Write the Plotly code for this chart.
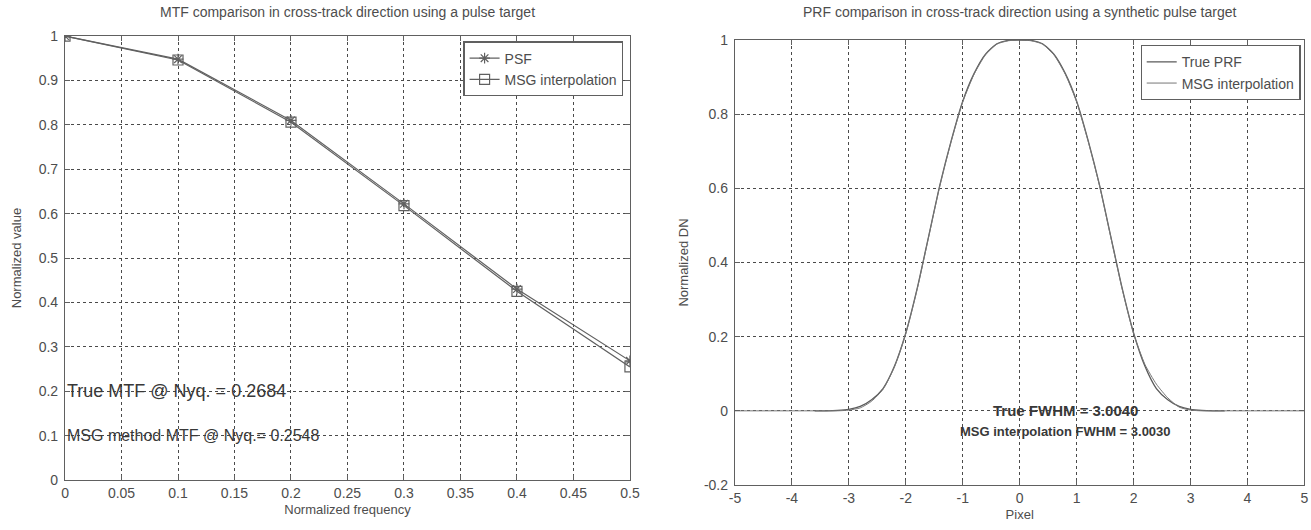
import plotly.graph_objects as go

# ---------------- data ----------------
mtf_freq = [0.0, 0.1, 0.2, 0.3, 0.4, 0.5]
mtf_psf = [1.0, 0.948, 0.810, 0.622, 0.430, 0.2684]
mtf_msg = [1.0, 0.946, 0.806, 0.618, 0.425, 0.2548]

prf_true_x = [-3.6, -3.4, -3.2, -3.0, -2.8, -2.6, -2.4, -2.2, -2.0, -1.8, -1.6, -1.4, -1.2, -1.0,
              -0.8, -0.6, -0.4, -0.2, 0.0, 0.2, 0.4, 0.6, 0.8, 1.0, 1.2, 1.4, 1.6, 1.8, 2.0,
              2.2, 2.4, 2.6, 2.8, 3.0, 3.2, 3.4, 3.6]
prf_true_y = [0.0, 0.0, 0.001, 0.004, 0.012, 0.030, 0.060, 0.120, 0.210, 0.330, 0.470, 0.610, 0.730, 0.835,
              0.910, 0.962, 0.990, 0.999, 1.000, 0.999, 0.990, 0.962, 0.910, 0.835, 0.730, 0.610, 0.470, 0.330, 0.210,
              0.120, 0.060, 0.030, 0.012, 0.004, 0.001, 0.0, 0.0]

prf_msg_x = [-5.0, -4.0, -3.4, -3.2, -3.0, -2.8, -2.6, -2.4, -2.2, -2.0, -1.8, -1.6, -1.4, -1.2, -1.0,
             -0.8, -0.6, -0.4, -0.2, 0.0, 0.2, 0.4, 0.6, 0.8, 1.0, 1.2, 1.4, 1.6, 1.8, 2.0,
             2.2, 2.4, 2.6, 2.8, 3.0, 3.2, 3.4, 4.0, 5.0]
prf_msg_y = [0.0, 0.0, 0.0, 0.0, 0.002, 0.008, 0.026, 0.058, 0.118, 0.208, 0.328, 0.468, 0.608, 0.728, 0.833,
             0.908, 0.960, 0.989, 0.998, 1.000, 0.998, 0.989, 0.960, 0.908, 0.833, 0.728, 0.608, 0.468, 0.328, 0.208,
             0.125, 0.072, 0.035, 0.010, 0.002, 0.0, 0.0, 0.0, 0.0]

mtf_xticks = [0, 0.05, 0.1, 0.15, 0.2, 0.25, 0.3, 0.35, 0.4, 0.45, 0.5]
mtf_xticklabels = ["0", "0.05", "0.1", "0.15", "0.2", "0.25", "0.3", "0.35", "0.4", "0.45", "0.5"]
mtf_yticks = [0, 0.1, 0.2, 0.3, 0.4, 0.5, 0.6, 0.7, 0.8, 0.9, 1]
mtf_yticklabels = ["0", "0.1", "0.2", "0.3", "0.4", "0.5", "0.6", "0.7", "0.8", "0.9", "1"]
prf_xticks = [-5, -4, -3, -2, -1, 0, 1, 2, 3, 4, 5]
prf_xticklabels = ["-5", "-4", "-3", "-2", "-1", "0", "1", "2", "3", "4", "5"]
prf_yticks = [-0.2, 0, 0.2, 0.4, 0.6, 0.8, 1]
prf_yticklabels = ["-0.2", "0", "0.2", "0.4", "0.6", "0.8", "1"]

# ---------------- style ----------------
NARROW = "Liberation Sans Narrow, Arial Narrow, Liberation Sans, Arial, sans-serif"
ARIAL = "Liberation Sans, Arial, sans-serif"
INK = "#4d4d4d"
LINE = "#606060"
GRID = "#4a4a4a"

L_DOM = [0.0496, 0.4805]
R_DOM = [0.5606, 0.9950]

fig = go.Figure()

fig.add_trace(go.Scatter(x=mtf_freq, y=mtf_psf, name="PSF", mode="lines+markers",
                         line=dict(color=LINE, width=1.2),
                         marker=dict(symbol="asterisk-open", size=9, color=LINE, line=dict(color=LINE, width=1.2)),
                         xaxis="x", yaxis="y", legend="legend"))
fig.add_trace(go.Scatter(x=mtf_freq, y=mtf_msg, name="MSG interpolation", mode="lines+markers",
                         line=dict(color=LINE, width=1.2),
                         marker=dict(symbol="square-open", size=10, color=LINE, line=dict(color=LINE, width=1.2)),
                         xaxis="x", yaxis="y", legend="legend"))

fig.add_trace(go.Scatter(x=prf_true_x, y=prf_true_y, name="True PRF", mode="lines",
                         line=dict(color="#5a5a5a", width=1.3, shape="spline", smoothing=0.6),
                         xaxis="x2", yaxis="y2", legend="legend2"))
fig.add_trace(go.Scatter(x=prf_msg_x, y=prf_msg_y, name="MSG interpolation", mode="lines",
                         line=dict(color="#777777", width=1.0, shape="spline", smoothing=0.6),
                         xaxis="x2", yaxis="y2", legend="legend2"))

axis_common = dict(
    automargin=False,
    showline=True, linecolor=LINE, linewidth=1.2, mirror="allticks",
    ticks="inside", ticklen=5, tickcolor=LINE,
    showgrid=True, gridcolor=GRID, gridwidth=1, griddash="3px,3px",
    zeroline=False, tickfont=dict(family=NARROW, size=14, color=INK),
    title_font=dict(family=NARROW, size=13, color=INK),
)

fig.update_layout(
    width=1311, height=530,
    margin=dict(l=0, r=0, t=0, b=0),
    paper_bgcolor="white", plot_bgcolor="white",
    xaxis=dict(domain=L_DOM, range=[0, 0.5], tickvals=mtf_xticks, ticktext=mtf_xticklabels,
               title=dict(text="Normalized frequency", standoff=4), anchor="y", **axis_common),
    yaxis=dict(domain=[0.0943, 0.932], range=[0, 1], tickvals=mtf_yticks, ticktext=mtf_yticklabels,
               title=dict(text="Normalized value", standoff=14), anchor="x", ticklabelstandoff=3, **axis_common),
    xaxis2=dict(domain=R_DOM, range=[-5, 5], tickvals=prf_xticks, ticktext=prf_xticklabels,
                title=dict(text="Pixel", standoff=4), anchor="y2", **axis_common),
    yaxis2=dict(domain=[0.0849, 0.9245], range=[-0.2, 1], tickvals=prf_yticks, ticktext=prf_yticklabels,
                title=dict(text="Normalized DN", standoff=12), anchor="x2", ticklabelstandoff=3, **axis_common),
    legend=dict(x=L_DOM[1] - 0.005, y=0.922, xanchor="right", yanchor="top", bgcolor="white",
                bordercolor=LINE, borderwidth=1.2, font=dict(family=NARROW, size=14, color=INK),
                tracegroupgap=0, itemwidth=30),
    legend2=dict(x=R_DOM[1] - 0.003, y=0.915, xanchor="right", yanchor="top", bgcolor="white",
                 bordercolor=LINE, borderwidth=1.2, font=dict(family=NARROW, size=14, color=INK),
                 tracegroupgap=0, itemwidth=30),
    annotations=[
        dict(text="MTF comparison in cross-track direction using a pulse target", xref="paper", yref="paper",
             x=(L_DOM[0] + L_DOM[1]) / 2, y=1 - 12 / 530, xanchor="center", yanchor="middle", showarrow=False,
             font=dict(family=NARROW, size=14, color=INK)),
        dict(text="PRF comparison in cross-track direction using a synthetic pulse target", xref="paper", yref="paper",
             x=(R_DOM[0] + R_DOM[1]) / 2, y=1 - 12 / 530, xanchor="center", yanchor="middle", showarrow=False,
             font=dict(family=NARROW, size=14, color=INK)),
        dict(text="True MTF @ Nyq. = 0.2684", xref="x", yref="y", x=0.0, y=0.2, xanchor="left",
             yanchor="middle", showarrow=False, font=dict(family=ARIAL, size=18, color="#383838")),
        dict(text="MSG method MTF @ Nyq.= 0.2548", xref="x", yref="y", x=0.0, y=0.1, xanchor="left",
             yanchor="middle", showarrow=False, font=dict(family=ARIAL, size=16, color="#383838")),
        dict(text="<b>True FWHM = 3.0040</b>", xref="x2", yref="y2", x=0.8, y=0.0, xanchor="center",
             yanchor="middle", showarrow=False, font=dict(family=NARROW, size=15, color="#383838")),
        dict(text="<b>MSG interpolation FWHM = 3.0030</b>", xref="x2", yref="y2", x=0.8, y=-0.055,
             xanchor="center", yanchor="middle", showarrow=False, font=dict(family=NARROW, size=13, color="#383838")),
    ],
)

fig.write_html("out.html")
